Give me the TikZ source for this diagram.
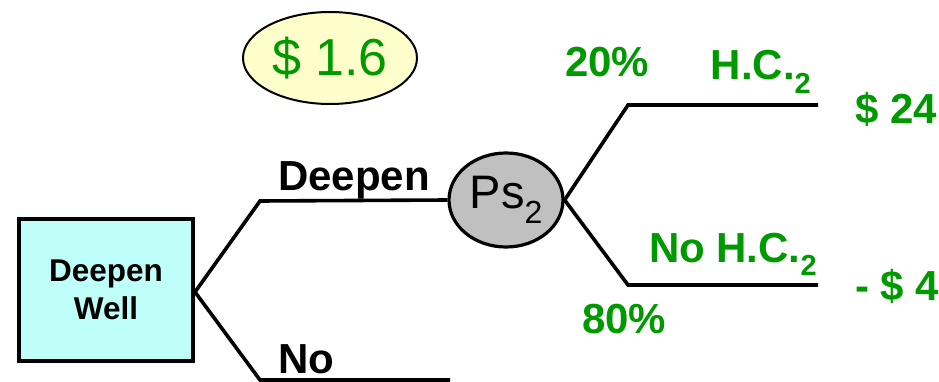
\documentclass[tikz,border=0pt]{standalone}
\usepackage{fontspec}
\setmainfont{Liberation Sans}
\usetikzlibrary{shapes.geometric}
\definecolor{dgreen}{RGB}{0,153,0}
\definecolor{boxcyan}{RGB}{190,255,250}
\definecolor{paleyellow}{RGB}{255,255,204}
\definecolor{chancegray}{RGB}{192,192,192}
\tikzset{
  branch/.style={line width=3.6pt, line join=miter},
  lbl/.style={inner sep=0pt, font=\fontsize{42}{42}\selectfont\bfseries},
  glbl/.style={lbl, text=dgreen},
}
\newcommand{\sbt}[1]{\raisebox{-0.32em}{\fontsize{29}{29}\selectfont #1}}
\begin{document}
\begin{tikzpicture}[x=1pt,y=-1pt]
\useasboundingbox (0,0) rectangle (939,382);
% decision box
\node[draw, line width=4pt, fill=boxcyan, minimum width=174pt, minimum height=142pt,
  inner sep=0pt, align=center, font=\fontsize{31.5}{38}\selectfont\bfseries] (box) at (106,290) {Deepen\\Well};
% chance node
\node[ellipse, draw, line width=3.2pt, fill=chancegray, minimum width=114pt, minimum height=94pt,
  inner sep=0pt, font=\fontsize{47}{47}\selectfont] (ps) at (506,200) {Ps\raisebox{-0.32em}{\fontsize{32}{32}\selectfont 2}};
% value ellipse
\node[ellipse, draw, line width=2pt, fill=paleyellow, minimum width=174pt, minimum height=92pt,
  inner sep=0pt, text=dgreen, font=\fontsize{52}{52}\selectfont] (val) at (330,58) {\$ 1.6};
% coordinates
\coordinate (b1) at (260,201);
\coordinate (b2) at (260,380);
\coordinate (b2e) at (450,380);
\coordinate (u1) at (628,105);
\coordinate (u2) at (818,105);
\coordinate (d1) at (628,285);
\coordinate (d2) at (818,285);
\coordinate (boxr) at (195,292);
% connectors
\draw[branch] (boxr) -- (b1) -- (ps.west);
\draw[branch] (boxr) -- (b2) -- (b2e);
\draw[branch] (ps.east) -- (u1) -- (u2);
\draw[branch] (ps.east) -- (d1) -- (d2);
% labels
\node[lbl, anchor=base west] (ldeep) at (278,190) {Deepen};
\node[lbl, anchor=base west] (lno) at (278,373) {No};
\node[glbl, anchor=base west] (p20) at (565,77) {20\%};
\node[glbl, anchor=base east] (hc) at (811,80) {H.C.\sbt{2}};
\node[glbl, anchor=base west] (v24) at (855,124) {\$ 24};
\node[glbl, anchor=base east] (nhc) at (817,262) {No H.C.\sbt{2}};
\node[glbl, anchor=base west] (vm4) at (855,300) {- \$ 4};
\node[glbl, anchor=base west] (p80) at (582,333) {80\%};
\end{tikzpicture}
\end{document}
